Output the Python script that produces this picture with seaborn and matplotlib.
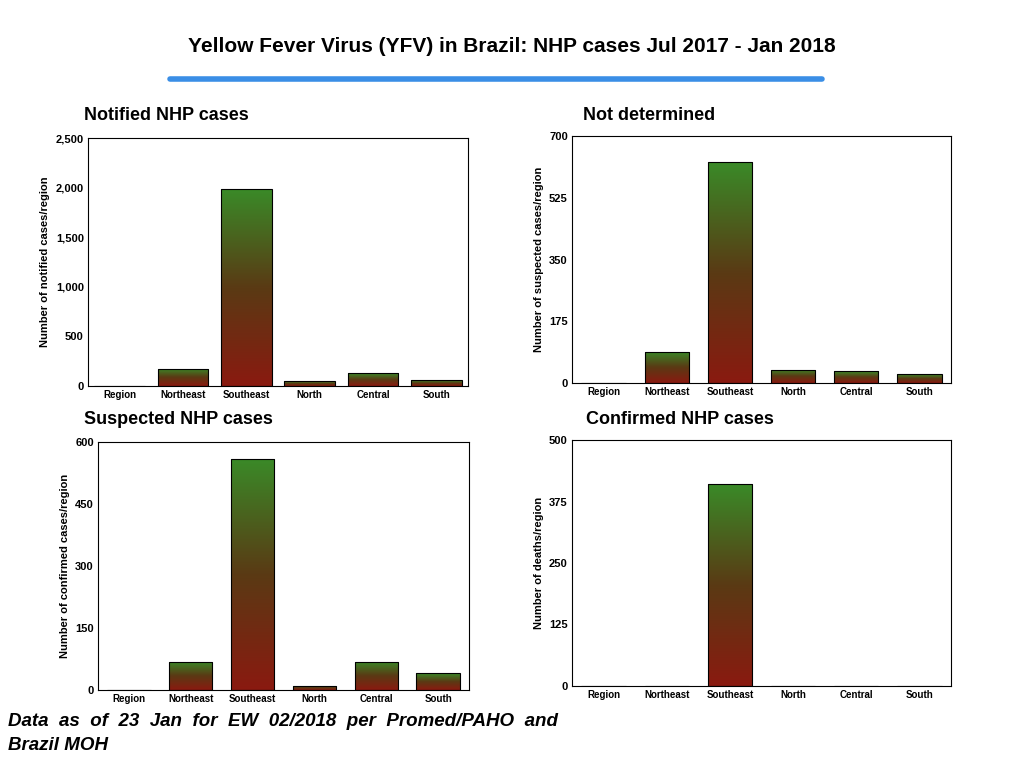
import matplotlib
matplotlib.use("Agg")
import matplotlib.pyplot as plt
import seaborn as sns
import numpy as np
from matplotlib.colors import LinearSegmentedColormap

regions = ["Region", "Northeast", "Southeast", "North", "Central", "South"]
notified = [0, 175, 1985, 50, 130, 60]
not_determined = [0, 88, 625, 38, 33, 25]
suspected = [0, 68, 560, 10, 68, 40]
confirmed = [0, 0, 410, 0, 0, 0]

sns.set_theme(style="white")
plt.rcParams['font.family'] = ['Liberation Sans', 'DejaVu Sans']
plt.rcParams['text.color'] = 'black'
plt.rcParams['axes.labelcolor'] = 'black'
plt.rcParams['xtick.color'] = 'black'
plt.rcParams['ytick.color'] = 'black'

cmap = LinearSegmentedColormap.from_list("rg", ["#8a1a10", "#5a3a14", "#3a8a28"])

W, H = 1024, 768
fig = plt.figure(figsize=(W / 100, H / 100), dpi=100)

def px(x0, y0, x1, y1):
    return [x0 / W, 1 - y1 / H, (x1 - x0) / W, (y1 - y0) / H]

panels = [
    (px(88, 138, 468, 386), notified, 2500, [0, 500, 1000, 1500, 2000, 2500],
     "Notified NHP cases", "Number of notified cases/region", (84, 116), 0.8),
    (px(572, 136, 951, 383), not_determined, 700, [0, 175, 350, 525, 700],
     "Not determined", "Number of suspected cases/region", (583, 116), 0.7),
    (px(98, 442, 469, 690), suspected, 600, [0, 150, 300, 450, 600],
     "Suspected NHP cases", "Number of confirmed cases/region", (84, 419), 0.7),
    (px(572, 440, 951, 686), confirmed, 500, [0, 125, 250, 375, 500],
     "Confirmed NHP cases", "Number of deaths/region", (586, 419), 0.7),
]

grad = np.linspace(0, 1, 256).reshape(-1, 1)
for rect, vals, ymax, ticks, title, ylabel, tpos, bw in panels:
    ax = fig.add_axes(rect)
    sns.barplot(x=regions, y=vals, ax=ax, color="white", edgecolor="black",
                linewidth=0.8, width=bw)
    for p in ax.patches:
        p.set_facecolor("none")
        p.set_zorder(3)
        x, w, h = p.get_x(), p.get_width(), p.get_height()
        if h <= 0:
            continue
        im = ax.imshow(grad, cmap=cmap, aspect="auto", origin="lower",
                       extent=[x, x + w, 0, h], zorder=1)
        im.set_clip_path(p)
    ax.set_xlim(-0.5, 5.5)
    ax.set_ylim(0, ymax)
    ax.set_yticks(ticks)
    ax.set_yticklabels([f"{t:,}" for t in ticks], fontsize=8, fontweight="bold")
    ax.set_xticks(range(len(regions)))
    ax.set_xticklabels(regions, fontsize=7, fontweight="bold")
    ax.tick_params(length=0, pad=3)
    ax.set_ylabel(ylabel, fontsize=8, fontweight="bold")
    for s in ax.spines.values():
        s.set_color("black")
        s.set_linewidth(0.8)
    fig.text(tpos[0] / W, 1 - tpos[1] / H, title, fontsize=13, fontweight="bold",
             va="center", ha="left")

fig.text(0.5, 1 - 46 / H, "Yellow Fever Virus (YFV) in Brazil: NHP cases Jul 2017 - Jan 2018",
         fontsize=15, fontweight="bold", ha="center", va="center")
fig.add_artist(plt.Line2D([170 / W, 822 / W], [1 - 79 / H] * 2, color="#3a8ee6", linewidth=4))
fig.text(8 / W, 1 - 722 / H, "Data  as  of  23  Jan  for  EW  02/2018  per  Promed/PAHO  and",
         fontsize=13.5, fontweight="bold", style="italic", va="center")
fig.text(8 / W, 1 - 746 / H, "Brazil MOH", fontsize=13.5, fontweight="bold", style="italic", va="center")

fig.savefig("out.png", dpi=100)
